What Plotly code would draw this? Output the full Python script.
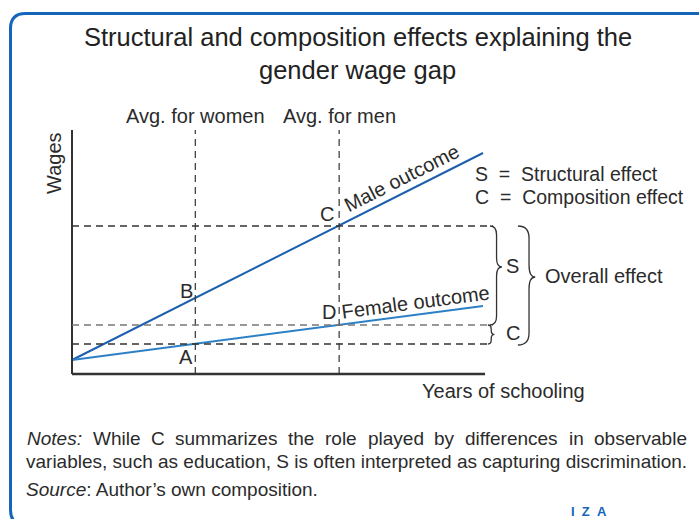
import math
import plotly.graph_objects as go

# ---------------- data ----------------
schooling = [0, 3, 6.5, 10]                 # start, avg women, avg men, end
male_wage = [0.7, 3.8, 7.4, 11.05]          # origin, B, C, end
female_wage = [0.7, 1.5, 2.45, 3.4]         # origin, A, D, end
avg_labels = ["Avg. for women", "Avg. for men"]
point_labels = ["A", "B", "C", "D"]
x_axis_end = 10.05
y_axis_end = 12.2

# ---------------- layout constants ----------------
W, H = 699, 519
FONT = "Liberation Sans, Arial, sans-serif"
TXT = "#2b2b2b"
MALE = "#1c5fae"
FEMALE = "#2d80c6"
BORDER = "#1565b8"
# full-figure axes: pixel = x0px + sx * x ; pixel_y = y0px - sy * y
x0px, sx = 72, 41.1
y0px, sy = 374, 20.0
xrange_ = [-x0px / sx, (W - x0px) / sx]
yrange_ = [-(H - y0px) / sy, y0px / sy]


def px(p):   # pixel x -> paper
    return p / W


def py(p):   # pixel y -> paper
    return 1 - p / H


fig = go.Figure()

# outcome lines
fig.add_trace(go.Scatter(x=schooling, y=male_wage, mode="lines",
                         line=dict(color=MALE, width=2), hoverinfo="skip"))
fig.add_trace(go.Scatter(x=schooling, y=female_wage, mode="lines",
                         line=dict(color=FEMALE, width=2), hoverinfo="skip"))

shapes = []
DASH = "7px,5px"
# axis lines
shapes.append(dict(type="line", xref="x", yref="y", x0=0, y0=0, x1=x_axis_end, y1=0,
                   line=dict(color="#333333", width=2.5)))
shapes.append(dict(type="line", xref="x", yref="y", x0=0, y0=0, x1=0, y1=y_axis_end,
                   line=dict(color="#333333", width=2)))
# vertical dashed at averages
for xv in (schooling[1], schooling[2]):
    shapes.append(dict(type="line", xref="x", yref="y", x0=xv, y0=0, x1=xv, y1=y_axis_end,
                       line=dict(color="#333333", width=1.2, dash=DASH)))
# horizontal dashed lines (C, D, A)
for yv, xe, col in ((male_wage[2], 10.24, "#333333"),
                    (female_wage[2], 10.24, "#777777"),
                    (female_wage[1], 10.12, "#333333")):
    shapes.append(dict(type="line", xref="x", yref="y", x0=0, y0=yv, x1=xe, y1=yv,
                       line=dict(color=col, width=1.4, dash=DASH)))


def brace(xl, xm, xt, ytop, ybot, ytip, r=0.45):
    return (f"M {xl},{ytop} Q {xm},{ytop} {xm},{ytop - r} "
            f"L {xm},{ytip + r} Q {xm},{ytip} {xt},{ytip} "
            f"Q {xm},{ytip} {xm},{ytip - r} "
            f"L {xm},{ybot + r} Q {xm},{ybot} {xl},{ybot}")


# S brace, C brace, overall brace
shapes.append(dict(type="path", xref="x", yref="y",
                   path=brace(10.17, 10.33, 10.46, male_wage[2], female_wage[2], 5.35),
                   line=dict(color="#333333", width=1.3)))
shapes.append(dict(type="path", xref="x", yref="y",
                   path=brace(10.12, 10.2, 10.28, female_wage[2], female_wage[1], 1.98, r=0.2),
                   line=dict(color="#333333", width=1.3)))
shapes.append(dict(type="path", xref="x", yref="y",
                   path=brace(10.85, 11.12, 11.27, male_wage[2], 1.45, 4.85, r=0.6),
                   line=dict(color="#333333", width=1.3)))

# border (rounded, open to the right)
bx, bt, bb, rr = 10.5, 13.5, 525, 15
border_path = (f"M {px(740)},{py(bt)} L {px(bx + rr)},{py(bt)} "
               f"Q {px(bx)},{py(bt)} {px(bx)},{py(bt + rr)} "
               f"L {px(bx)},{py(bb - rr)} Q {px(bx)},{py(bb)} {px(bx + rr)},{py(bb)} "
               f"L {px(740)},{py(bb)}")
shapes.append(dict(type="path", xref="paper", yref="paper", path=border_path,
                   line=dict(color=BORDER, width=3)))

ann = []
LS = 20


def t(text, x, y, size=LS, xref="x", yref="y", color=TXT, **kw):
    d = dict(text=text, x=x, y=y, xref=xref, yref=yref, showarrow=False,
             xanchor="center", yanchor="middle",
             font=dict(family=FONT, size=size, color=color))
    d.update(kw)
    ann.append(d)


# title
t("Structural and composition effects explaining the", px(358), py(37), size=25.5,
  xref="paper", yref="paper", color="#222222")
t("gender wage gap", px(358), py(70), size=25.5, xref="paper", yref="paper", color="#222222")

# averages labels
t(avg_labels[0], schooling[1], 12.9)
t(avg_labels[1], schooling[2], 12.9)
# axis titles
t("Wages", -0.44, 10.55, textangle=-90)
t("Years of schooling", 10.49, -0.85)

# point labels (offsets relative to the points)
pts = {"A": (schooling[1], female_wage[1], -9, -13),
       "B": (schooling[1], male_wage[1], -9, 7),
       "C": (schooling[2], male_wage[2], -12, 12),
       "D": (schooling[2], female_wage[2], -10, 13)}
for lab in point_labels:
    xv, yv, xs, ys = pts[lab]
    t(lab, xv, yv, xshift=xs, yshift=ys)

# line labels
male_ang = math.degrees(math.atan((male_wage[3] - male_wage[0]) / (schooling[3] - schooling[0]) * sy / sx))
fem_ang = math.degrees(math.atan((female_wage[3] - female_wage[0]) / (schooling[3] - schooling[0]) * sy / sx))
xm = 8.05
t("Male outcome", xm, male_wage[0] + (male_wage[3] - male_wage[0]) / 10 * xm, textangle=-male_ang,
  yshift=15, xshift=-1)
xf = 8.39
t("Female outcome", xf, female_wage[0] + (female_wage[3] - female_wage[0]) / 10 * xf, textangle=-fem_ang,
  yshift=13, xshift=-1)

# legend text & braces labels
NB = "\u00a0"
t(f"S{NB}{NB}={NB}{NB}Structural effect", 9.757, 10.0, size=19.5, xanchor="left")
t(f"C{NB}{NB}={NB}{NB}Composition effect", 9.757, 8.85, size=19.5, xanchor="left")
t("S", 10.71, 5.4)
t("C", 10.73, 2.05)
t("Overall effect", 11.46, 4.9, xanchor="left")

# notes: line 1 justified word by word (Arial/Liberation advance widths)
NS = 19
AW = {"a": 556, "b": 556, "c": 500, "d": 556, "e": 556, "f": 278, "h": 556, "i": 222,
      "l": 222, "m": 833, "n": 556, "o": 556, "p": 556, "r": 333, "s": 500, "t": 278,
      "u": 556, "v": 500, "y": 500, "z": 500, "C": 722, "N": 722, "W": 944, ":": 278}
words1 = ["Notes:", "While", "C", "summarizes", "the", "role", "played", "by",
          "differences", "in", "observable"]
left, right = 25, 685
widths = [sum(AW.get(ch, 556) for ch in w_) / 1000 * NS for w_ in words1]
gap = (right - left - sum(widths)) / (len(words1) - 1)
xpos = left
for w_, wd in zip(words1, widths):
    txt = f"<i>{w_}</i>" if w_ == "Notes:" else w_
    t(txt, px(xpos), py(438), size=NS, xref="paper", yref="paper", xanchor="left")
    xpos += wd + gap
t("variables, such as education, S is often interpreted as capturing discrimination.",
  px(24), py(461), size=NS, xref="paper", yref="paper", xanchor="left")
t("<i>Source</i>: Author’s own composition.", px(24), py(489), size=NS,
  xref="paper", yref="paper", xanchor="left")
t(f"<b>I{NB}{NB}Z{NB}{NB}A</b>", px(589), py(511), size=13, xref="paper", yref="paper",
  color=BORDER)

fig.update_layout(
    width=W, height=H, margin=dict(l=0, r=0, t=0, b=0),
    paper_bgcolor="white", plot_bgcolor="white", showlegend=False,
    xaxis=dict(range=xrange_, domain=[0, 1], visible=False, fixedrange=True),
    yaxis=dict(range=yrange_, domain=[0, 1], visible=False, fixedrange=True),
    shapes=shapes, annotations=ann,
)
fig.write_html("out.html", config={"displayModeBar": False},
               post_script="document.body.style.margin='0';document.body.style.overflow='hidden';")
